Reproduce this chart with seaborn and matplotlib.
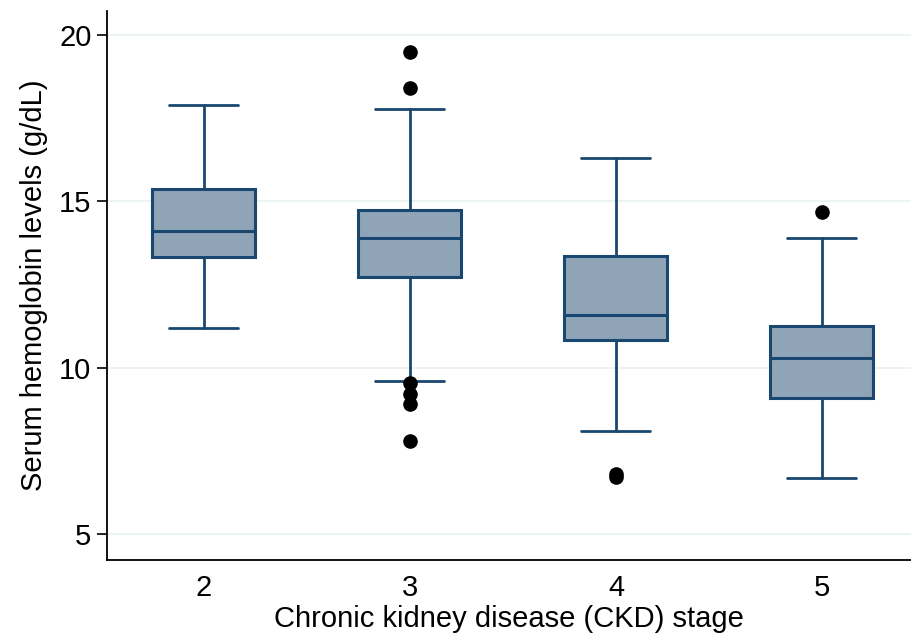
import numpy as np
import matplotlib
matplotlib.use("Agg")
import matplotlib.pyplot as plt
import seaborn as sns

# summary stats, one entry per CKD stage
stages = [2, 3, 4, 5]
whis_lo = [11.19, 9.59, 8.09, 6.69]
q1 = [13.33, 12.72, 10.82, 9.10]
median = [14.11, 13.88, 11.58, 10.28]
q3 = [15.37, 14.74, 13.35, 11.25]
whis_hi = [17.89, 17.78, 16.30, 13.89]
outliers = [[], [19.49, 18.39, 9.55, 9.20, 8.90, 7.80], [6.80, 6.70], [14.69]]

sns.set_style("white")
plt.rcParams["font.family"] = ["Liberation Sans", "DejaVu Sans"]
plt.rcParams["text.color"] = "black"
plt.rcParams["axes.labelcolor"] = "black"
plt.rcParams["xtick.color"] = "black"
plt.rcParams["ytick.color"] = "black"

navy = "#1a476f"
fill = "#90a4b8"

stats = []
for i, s in enumerate(stages):
    stats.append(dict(label=str(s), whislo=whis_lo[i], q1=q1[i], med=median[i],
                      q3=q3[i], whishi=whis_hi[i], fliers=outliers[i]))

fig = plt.figure(figsize=(9.12, 6.36), dpi=100)
ax = fig.add_axes([0.117, 0.1195, 0.883, 0.8635])

for y in [5, 10, 15, 20]:
    ax.axhline(y, color="#eaf2f3", lw=1.3, zorder=0)

ax.bxp(stats, positions=stages, widths=0.5, capwidths=0.335, patch_artist=True,
       boxprops=dict(facecolor=fill, edgecolor=navy, linewidth=2.2),
       medianprops=dict(color=navy, linewidth=2.2),
       whiskerprops=dict(color=navy, linewidth=2.0),
       capprops=dict(color=navy, linewidth=2.0),
       flierprops=dict(marker="o", markerfacecolor="black", markeredgecolor="black",
                       markersize=9.5))

ax.set_xlim(1.528, 5.437)
ax.set_ylim(4.22, 20.72)
ax.set_yticks([5, 10, 15, 20])
ax.set_xticks(stages)
ax.set_xticklabels([str(s) for s in stages])
ax.tick_params(axis="y", length=7, width=1.2, color="black", labelsize=21, pad=4, left=True)
ax.tick_params(axis="x", length=0, labelsize=21, pad=10)
sns.despine(ax=ax)
ax.spines["left"].set_linewidth(1.3)
ax.spines["bottom"].set_linewidth(1.3)
ax.spines["left"].set_color("black")
ax.spines["bottom"].set_color("black")

ax.set_ylabel("Serum hemoglobin levels (g/dL)", fontsize=21, labelpad=8)
ax.set_xlabel("Chronic kidney disease (CKD) stage", fontsize=21, labelpad=2)

fig.savefig("out.png", dpi=100)
